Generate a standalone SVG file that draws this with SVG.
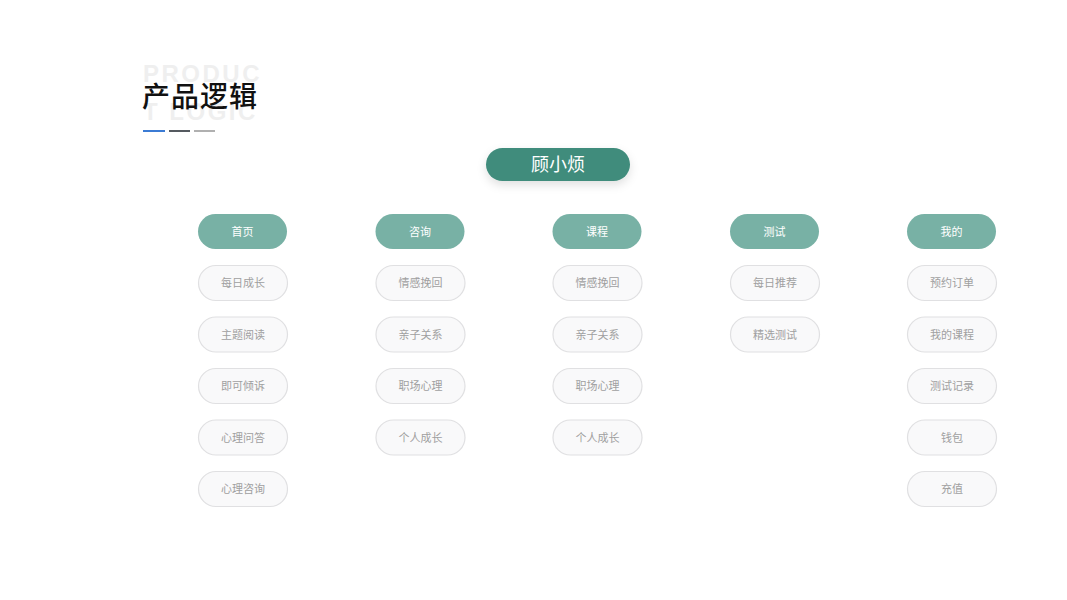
<svg xmlns="http://www.w3.org/2000/svg" width="1067" height="600" viewBox="0 0 1067 600">
<defs>
<style>
.ghost{font-family:"Liberation Sans",Arial,sans-serif;font-weight:bold;font-size:24px;letter-spacing:2.5px;fill:#efefef}
.title{font-family:"Noto Sans CJK SC","Noto Sans",sans-serif;font-weight:500;font-size:28px;fill:#111}
.cat rect{fill:#78b1a5}
.cat text{font-family:"Noto Sans CJK SC",sans-serif;font-size:11px;fill:#fff;text-anchor:middle}
.sub rect{fill:#f9f9fa;stroke:#e0e0e2;stroke-width:1.2}
.sub text{font-family:"Noto Sans CJK SC",sans-serif;font-size:11px;fill:#a0a0a0;text-anchor:middle}
</style>
<filter id="sh" x="-30%" y="-60%" width="160%" height="240%">
<feDropShadow dx="0" dy="4" stdDeviation="5" flood-color="#000" flood-opacity="0.12"/>
</filter>
</defs>
<rect width="1067" height="600" fill="#fff"/>
<g id="header">
<text class="ghost" x="143" y="82">PRODUC</text>
<text class="ghost" x="143" y="120">T LOGIC</text>
<text class="title" x="142" y="107" letter-spacing="1">产品逻辑</text>
<rect x="143" y="130" width="22" height="2" fill="#3b7bd4"/>
<rect x="169" y="130" width="21" height="2" fill="#555a60"/>
<rect x="194" y="130" width="21" height="2" fill="#b0b0b0"/>
</g>
<g id="root">
<rect x="486" y="148" width="144" height="33" rx="16.5" fill="#3f8c7c" filter="url(#sh)"/>
<text x="558" y="170.5" font-family="Noto Sans CJK SC,sans-serif" font-size="18" fill="#fff" text-anchor="middle">顾小烦</text>
</g>
<g id="connectors"></g>
<g id="col1">
<g class="cat" id="n-home"><rect x="198" y="214" width="89" height="35" rx="17.5"/><text x="242.5" y="235.5">首页</text></g>
<g class="sub"><rect x="198.5" y="265.5" width="89" height="35" rx="17.5"/><text x="243" y="287">每日成长</text></g>
<g class="sub"><rect x="198.5" y="317" width="89" height="35" rx="17.5"/><text x="243" y="338.5">主题阅读</text></g>
<g class="sub"><rect x="198.5" y="368.5" width="89" height="35" rx="17.5"/><text x="243" y="390">即可倾诉</text></g>
<g class="sub"><rect x="198.5" y="420" width="89" height="35" rx="17.5"/><text x="243" y="441.5">心理问答</text></g>
<g class="sub"><rect x="198.5" y="471.5" width="89" height="35" rx="17.5"/><text x="243" y="493">心理咨询</text></g>
</g>
<g id="col2">
<g class="cat" id="n-consult"><rect x="375.5" y="214" width="89" height="35" rx="17.5"/><text x="420" y="235.5">咨询</text></g>
<g class="sub"><rect x="376" y="265.5" width="89" height="35" rx="17.5"/><text x="420.5" y="287">情感挽回</text></g>
<g class="sub"><rect x="376" y="317" width="89" height="35" rx="17.5"/><text x="420.5" y="338.5">亲子关系</text></g>
<g class="sub"><rect x="376" y="368.5" width="89" height="35" rx="17.5"/><text x="420.5" y="390">职场心理</text></g>
<g class="sub"><rect x="376" y="420" width="89" height="35" rx="17.5"/><text x="420.5" y="441.5">个人成长</text></g>
</g>
<g id="col3">
<g class="cat" id="n-course"><rect x="552.5" y="214" width="89" height="35" rx="17.5"/><text x="597" y="235.5">课程</text></g>
<g class="sub"><rect x="553" y="265.5" width="89" height="35" rx="17.5"/><text x="597.5" y="287">情感挽回</text></g>
<g class="sub"><rect x="553" y="317" width="89" height="35" rx="17.5"/><text x="597.5" y="338.5">亲子关系</text></g>
<g class="sub"><rect x="553" y="368.5" width="89" height="35" rx="17.5"/><text x="597.5" y="390">职场心理</text></g>
<g class="sub"><rect x="553" y="420" width="89" height="35" rx="17.5"/><text x="597.5" y="441.5">个人成长</text></g>
</g>
<g id="col4">
<g class="cat" id="n-test"><rect x="730" y="214" width="89" height="35" rx="17.5"/><text x="774.5" y="235.5">测试</text></g>
<g class="sub"><rect x="730.5" y="265.5" width="89" height="35" rx="17.5"/><text x="775" y="287">每日推荐</text></g>
<g class="sub"><rect x="730.5" y="317" width="89" height="35" rx="17.5"/><text x="775" y="338.5">精选测试</text></g>
</g>
<g id="col5">
<g class="cat" id="n-mine"><rect x="907" y="214" width="89" height="35" rx="17.5"/><text x="951.5" y="235.5">我的</text></g>
<g class="sub"><rect x="907.5" y="265.5" width="89" height="35" rx="17.5"/><text x="952" y="287">预约订单</text></g>
<g class="sub"><rect x="907.5" y="317" width="89" height="35" rx="17.5"/><text x="952" y="338.5">我的课程</text></g>
<g class="sub"><rect x="907.5" y="368.5" width="89" height="35" rx="17.5"/><text x="952" y="390">测试记录</text></g>
<g class="sub"><rect x="907.5" y="420" width="89" height="35" rx="17.5"/><text x="952" y="441.5">钱包</text></g>
<g class="sub"><rect x="907.5" y="471.5" width="89" height="35" rx="17.5"/><text x="952" y="493">充值</text></g>
</g>
</svg>
